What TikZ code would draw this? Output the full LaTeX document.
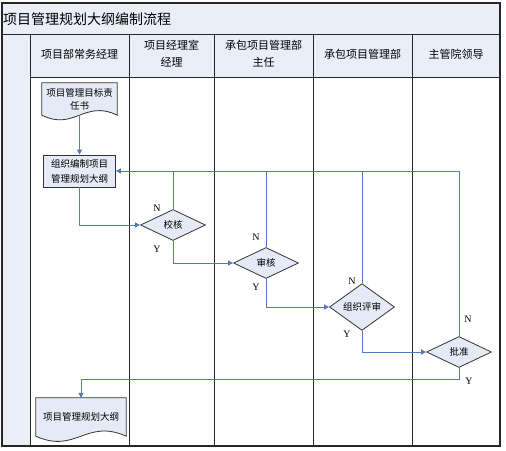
\documentclass[tikz,border=0pt]{standalone}
\usepackage{fontspec}
\setmainfont{Liberation Serif}
\newfontfamily\cjk{Noto Sans CJK SC}
\usepackage{tikz}
\usetikzlibrary{positioning,calc,shapes.geometric,arrows.meta,backgrounds}
\definecolor{LaneFill}{RGB}{233,238,247}
\definecolor{BoxFill}{RGB}{228,234,246}
\definecolor{FlowBlue}{RGB}{82,122,190}
\tikzset{
  grid/.style={draw=black!85,line width=1pt},
  hdr/.style={font=\cjk\fontsize{11}{17}\selectfont,align=center,inner sep=0pt},
  proc/.style={draw=black!80,fill=BoxFill,line width=0.8pt,font=\cjk\fontsize{9.5}{15}\selectfont,
    align=center,minimum width=72pt,minimum height=32pt,inner sep=1pt},
  dec/.style={diamond,draw=black!80,fill=BoxFill,line width=0.8pt,font=\cjk\fontsize{9.5}{12}\selectfont,
    minimum width=65pt,minimum height=31pt,inner sep=0pt},
  doc/.style={font=\cjk\fontsize{9.5}{13}\selectfont,align=center,inner sep=0pt},
  docline/.style={draw=black!80,fill=BoxFill,line width=0.8pt},
}
\tikzset{flow/.style={draw=FlowBlue,line width=1pt,-{Triangle[length=5pt,width=5pt]}},
  back/.style={draw=FlowBlue,line width=1pt}, yn/.style={font=\fontsize{10}{12}\selectfont,inner sep=0pt}}

\begin{document}
\begin{tikzpicture}[x=1pt,y=-1pt]
\useasboundingbox (0,0) rectangle (506,450);
% lanes
\fill[LaneFill] (2,3) rectangle (500,34);
\fill[LaneFill] (2,34) rectangle (30,446);
\fill[LaneFill] (30,34) rectangle (500,77);
\draw[grid] (2,34) -- (500,34);
\draw[grid] (30,77) -- (500,77);
\foreach \x in {30,129,214,313,412}
  \draw[grid] (\x,34) -- (\x,446);
\draw[grid,line width=1.3pt] (2,3) rectangle (500,446);
\node[anchor=west,font=\cjk\fontsize{14}{16}\selectfont,inner sep=0pt] (title) at (3,19) {项目管理规划大纲编制流程};
\node[hdr] (h1) at (79.5,54) {项目部常务经理};
\node[hdr] (h2) at (171.5,54) {项目经理室\\经理};
\node[hdr] (h3) at (263.5,54) {承包项目管理部\\主任};
\node[hdr] (h4) at (362.5,54) {承包项目管理部};
\node[hdr] (h5) at (456,54) {主管院领导};
% nodes
\node[doc,minimum width=75pt,minimum height=32pt] (target) at (79.5,99) {项目管理目标责\\任书};
\node[proc] (draft) at (79.5,171) {组织编制项目\\管理规划大纲};
\node[dec] (check) at (173,225) {校核};
\node[dec] (audit) at (266,263) {审核};
\node[dec] (review) at (362,307) {组织评审};
\node[dec] (approve) at (459,352) {批准};
\node[doc,minimum width=90pt,minimum height=38pt] (outline) at (81,417) {项目管理规划大纲};
\begin{scope}[on background layer]
\draw[docline] (target.south west) -- (target.north west) -- (target.north east) -- (target.south east)
  .. controls ($(target.south)+(5,-16)$) and ($(target.south)+(-5,16)$) .. (target.south west) -- cycle;
\draw[docline] (outline.south west) -- (outline.north west) -- (outline.north east) -- (outline.south east)
  .. controls ($(outline.south)+(5,-18)$) and ($(outline.south)+(-5,18)$) .. (outline.south west) -- cycle;
\end{scope}
% flow
\draw[flow] (target.south) -- (draft.north);
\draw[flow] (draft.south) |- (check.west);
\draw[flow] (check.south) |- (audit.west);
\draw[flow] (audit.south) |- (review.west);
\draw[flow] (review.south) |- (approve.west);
\draw[flow] (approve.north) |- (draft.east);
\draw[back] (check.north) -- (check.north |- draft.east);
\draw[back] (audit.north) -- (audit.north |- draft.east);
\draw[back] (review.north) -- (review.north |- draft.east);
\draw[flow] (approve.south) -- ++(0,12) -| (outline.north);
% labels
\node[yn] (n1) at (157,208) {N};
\node[yn] (y1) at (157,249) {Y};
\node[yn] (n2) at (256,237) {N};
\node[yn] (y2) at (256,287) {Y};
\node[yn] (n3) at (352,281) {N};
\node[yn] (y3) at (347,334) {Y};
\node[yn] (n4) at (468,319) {N};
\node[yn] (y4) at (469,381) {Y};
\end{tikzpicture}
\end{document}
